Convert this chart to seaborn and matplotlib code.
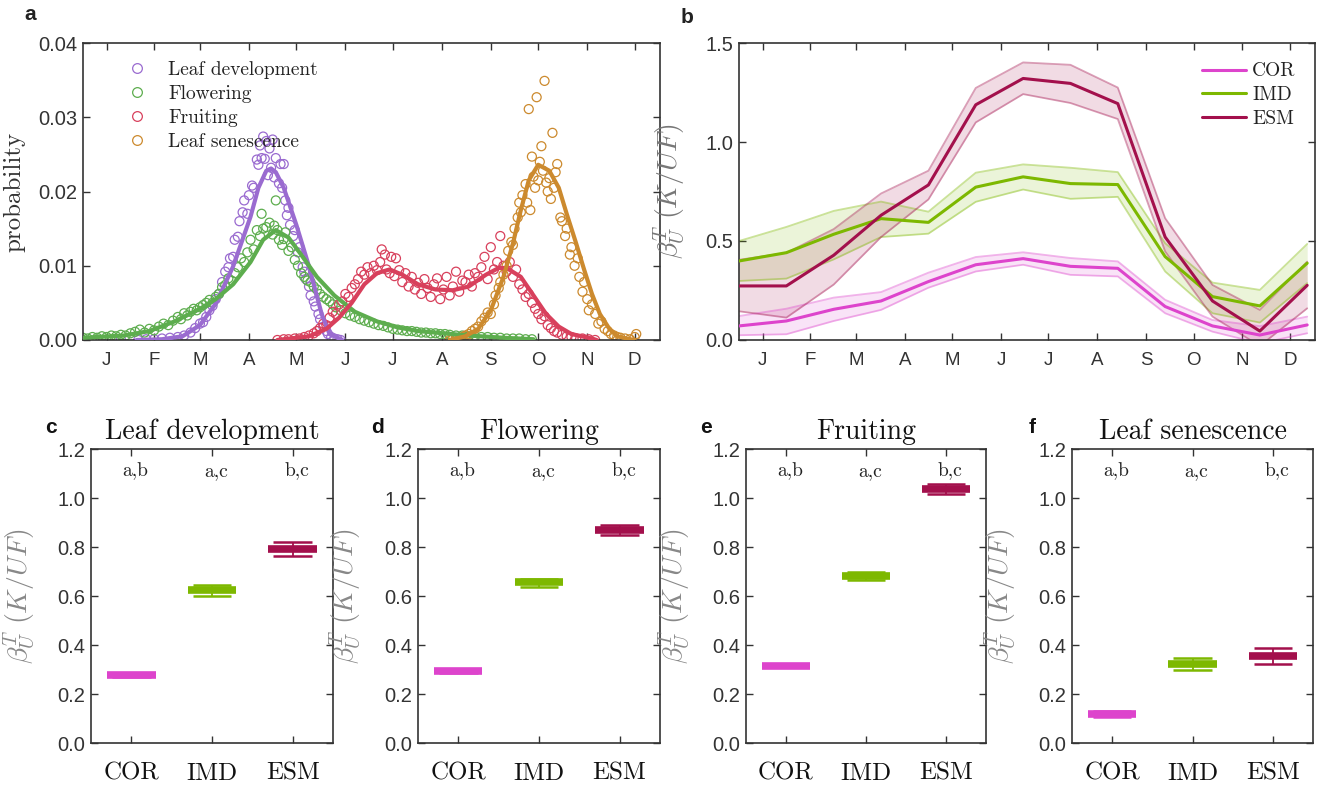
import numpy as np
import pandas as pd
import seaborn as sns
import matplotlib.pyplot as plt
import matplotlib.transforms as mtransforms
from matplotlib.lines import Line2D
from matplotlib.ticker import FormatStrFormatter

sns.set_theme(style="ticks")
plt.rcParams['font.family'] = ['Liberation Sans', 'DejaVu Sans']
plt.rcParams['mathtext.fontset'] = 'cm'
plt.rcParams['axes.edgecolor'] = '#333333'
plt.rcParams['xtick.color'] = '#333333'
plt.rcParams['ytick.color'] = '#333333'
plt.rcParams['text.color'] = '#222222'

SERIF = 'cmr10'

# ---- data: panel a (day of year, probability) ----
month_days = [15, 45, 74, 105, 135, 166, 196, 227, 258, 288, 319, 349]
month_labels = ['J', 'F', 'M', 'A', 'M', 'J', 'J', 'A', 'S', 'O', 'N', 'D']

stages = ['Leaf development', 'Flowering', 'Fruiting', 'Leaf senescence']
stage_colors = ['#9A6BD0', '#5DAD4E', '#D8405C', '#CC8A2E']

leaf_day = [24, 35, 40, 45, 50, 55, 60, 64, 68, 71, 74, 76, 78, 80, 82, 84, 86, 88, 90, 92,
            93, 95, 96, 98, 99, 101, 102, 104, 105, 107, 108, 110, 111, 112, 113, 114, 115,
            116, 117, 118, 119, 120, 121, 122, 124, 125, 126, 127, 128, 129, 130, 131, 133,
            134, 136, 137, 139, 140, 141, 143, 144, 146, 147, 149, 150, 152, 154, 155, 157,
            159, 161, 163]
leaf_prob = [0.0001, 0.0, 0.0001, 0.0001, 0.0002, 0.0003, 0.0004, 0.0006, 0.0010, 0.0016,
             0.0022, 0.0024, 0.0031, 0.0040, 0.0046, 0.0055, 0.0062, 0.0078, 0.0092, 0.0098,
             0.0110, 0.0112, 0.0135, 0.0139, 0.0160, 0.0172, 0.0188, 0.0170, 0.0195, 0.0208,
             0.0205, 0.0243, 0.0236, 0.0262, 0.0245, 0.0274, 0.0244, 0.0268, 0.0222, 0.0258,
             0.0232, 0.0270, 0.0219, 0.0245, 0.0211, 0.0237, 0.0205, 0.0237, 0.0188, 0.0168,
             0.0178, 0.0155, 0.0140, 0.0148, 0.0118, 0.0125, 0.0098, 0.0092, 0.0082, 0.0072,
             0.0060, 0.0052, 0.0045, 0.0035, 0.0028, 0.0018, 0.0012, 0.0008, 0.0004, 0.0002,
             0.0001, 0.0]
leaf_fit_day = [34, 50, 63, 74, 84, 95, 106, 111, 116, 119, 122, 127, 135, 143, 151, 156, 164]
leaf_fit_prob = [0.0, 0.0001, 0.0005, 0.0020, 0.0049, 0.0099, 0.0166, 0.0205, 0.0228, 0.0231,
                 0.0226, 0.0205, 0.0155, 0.0099, 0.0035, 0.0008, 0.0]

flow_day = [0, 3, 6, 9, 12, 15, 18, 21, 24, 27, 30, 33, 36, 39, 42, 45, 48, 51, 54, 57, 60, 62,
            64, 66, 68, 70, 72, 74, 76, 78, 80, 82, 84, 86, 88, 90, 92, 94, 96, 98, 100, 102,
            104, 106, 108, 110, 112, 113, 114, 116, 118, 120, 121, 122, 123, 124, 126, 127,
            128, 130, 132, 134, 136, 138, 140, 142, 144, 146, 148, 150, 152, 154, 156, 158,
            160, 163, 166, 169, 172, 175, 178, 181, 184, 187, 190, 193, 196, 199, 202, 205,
            208, 211, 214, 217, 220, 223, 226, 229, 232, 236, 240, 244, 248, 252, 256, 260,
            264, 268, 272, 276, 280, 284]
flow_prob = [0.0003, 0.0002, 0.0004, 0.0003, 0.0005, 0.0004, 0.0006, 0.0005, 0.0007, 0.0006,
             0.0009, 0.0011, 0.0014, 0.0010, 0.0015, 0.0013, 0.0018, 0.0022, 0.0020, 0.0026,
             0.0031, 0.0028, 0.0036, 0.0033, 0.0038, 0.0042, 0.0040, 0.0044, 0.0047, 0.0050,
             0.0054, 0.0050, 0.0058, 0.0062, 0.0071, 0.0074, 0.0083, 0.0080, 0.0090, 0.0098,
             0.0110, 0.0105, 0.0118, 0.0135, 0.0122, 0.0148, 0.0140, 0.0170, 0.0150, 0.0152,
             0.0158, 0.0142, 0.0154, 0.0188, 0.0148, 0.0135, 0.0128, 0.0136, 0.0145, 0.0120,
             0.0125, 0.0108, 0.0100, 0.0090, 0.0085, 0.0080, 0.0078, 0.0072, 0.0068, 0.0062,
             0.0058, 0.0055, 0.0052, 0.0048, 0.0044, 0.0040, 0.0036, 0.0033, 0.0031, 0.0028,
             0.0026, 0.0024, 0.0022, 0.0020, 0.0019, 0.0017, 0.0015, 0.0014, 0.0013, 0.0012,
             0.0012, 0.0011, 0.0010, 0.0010, 0.0009, 0.0009, 0.0008, 0.0008, 0.0007, 0.0006,
             0.0006, 0.0005, 0.0005, 0.0004, 0.0004, 0.0003, 0.0003, 0.0002, 0.0002, 0.0002,
             0.0001, 0.0001]
flow_fit_day = [0, 26, 42, 58, 74, 84, 95, 106, 114, 122, 130, 138, 148, 159, 172, 186, 199,
                212, 228, 244, 266, 285]
flow_fit_prob = [0.0003, 0.0006, 0.0012, 0.0025, 0.0042, 0.0055, 0.0075, 0.0105, 0.0135,
                 0.0148, 0.0138, 0.0115, 0.0085, 0.0060, 0.0038, 0.0025, 0.0017, 0.0012,
                 0.0009, 0.0006, 0.0003, 0.0001]

fruit_day = [123, 127, 130, 134, 137, 140, 143, 146, 148, 150, 152, 154, 156, 158, 160, 162,
             164, 166, 168, 170, 172, 174, 176, 178, 180, 182, 184, 186, 188, 189, 191, 192,
             194, 195, 197, 198, 200, 202, 204, 206, 208, 210, 212, 214, 216, 218, 220, 222,
             224, 226, 228, 230, 232, 234, 236, 238, 240, 242, 244, 246, 248, 250, 252, 254,
             256, 258, 260, 262, 264, 266, 268, 270, 272, 274, 276, 278, 280, 282, 284, 286,
             288, 290, 292, 294, 296, 298, 300, 303, 306, 309, 312, 316, 320, 324]
fruit_prob = [0.0000, 0.0001, 0.0001, 0.0002, 0.0002, 0.0004, 0.0006, 0.0009, 0.0012, 0.0016,
              0.0022, 0.0020, 0.0030, 0.0038, 0.0035, 0.0048, 0.0052, 0.0062, 0.0058, 0.0070,
              0.0075, 0.0082, 0.0092, 0.0088, 0.0098, 0.0090, 0.0100, 0.0094, 0.0105, 0.0122,
              0.0115, 0.0095, 0.0090, 0.0112, 0.0086, 0.0110, 0.0094, 0.0078, 0.0090, 0.0072,
              0.0085, 0.0068, 0.0077, 0.0062, 0.0082, 0.0070, 0.0058, 0.0075, 0.0083, 0.0055,
              0.0068, 0.0085, 0.0060, 0.0072, 0.0092, 0.0065, 0.0080, 0.0078, 0.0088, 0.0072,
              0.0090, 0.0085, 0.0098, 0.0112, 0.0082, 0.0125, 0.0095, 0.0105, 0.0140, 0.0100,
              0.0092, 0.0105, 0.0085, 0.0095, 0.0075, 0.0068, 0.0058, 0.0062, 0.0050, 0.0042,
              0.0035, 0.0028, 0.0032, 0.0020, 0.0016, 0.0012, 0.0010, 0.0007, 0.0005, 0.0004,
              0.0002, 0.0002, 0.0001, 0.0000]
fruit_fit_day = [123, 143, 154, 162, 170, 178, 186, 194, 202, 212, 223, 234, 244, 255, 263,
                 268, 277, 285, 293, 301, 309, 322, 325]
fruit_fit_prob = [0.0, 0.0005, 0.0015, 0.0030, 0.0050, 0.0075, 0.0090, 0.0095, 0.0088, 0.0075,
                  0.0068, 0.0067, 0.0072, 0.0088, 0.0097, 0.0097, 0.0085, 0.0060, 0.0035,
                  0.0018, 0.0008, 0.0002, 0.0]

sen_day = [232, 234, 236, 238, 240, 242, 244, 246, 248, 250, 252, 254, 256, 258, 260, 261, 263,
           264, 266, 268, 269, 271, 272, 273, 275, 276, 277, 278, 280, 281, 282, 283, 284, 285,
           286, 287, 288, 289, 290, 291, 292, 293, 294, 295, 296, 297, 298, 299, 300, 302, 303,
           305, 306, 308, 309, 311, 313, 314, 316, 317, 319, 320, 322, 324, 326, 328, 330, 332,
           334, 336, 338, 340, 343, 346, 349, 350]
sen_prob = [0.0000, 0.0001, 0.0002, 0.0002, 0.0004, 0.0006, 0.0008, 0.0012, 0.0015, 0.0018,
            0.0025, 0.0030, 0.0037, 0.0035, 0.0048, 0.0060, 0.0070, 0.0078, 0.0088, 0.0100,
            0.0120, 0.0132, 0.0128, 0.0150, 0.0165, 0.0185, 0.0172, 0.0195, 0.0210, 0.0185,
            0.0311, 0.0175, 0.0247, 0.0220, 0.0205, 0.0327, 0.0215, 0.0240, 0.0261, 0.0228,
            0.0349, 0.0212, 0.0200, 0.0218, 0.0190, 0.0279, 0.0205, 0.0226, 0.0237, 0.0165,
            0.0160, 0.0140, 0.0150, 0.0115, 0.0125, 0.0100, 0.0110, 0.0085, 0.0065, 0.0078,
            0.0055, 0.0040, 0.0048, 0.0035, 0.0022, 0.0025, 0.0015, 0.0012, 0.0008, 0.0006,
            0.0004, 0.0003, 0.0002, 0.0001, 0.0004, 0.0008]
sen_fit_day = [232, 242, 250, 258, 266, 272, 277, 282, 288, 295, 301, 306, 312, 317, 322, 327,
               333, 338, 346, 349]
sen_fit_prob = [0.0, 0.0005, 0.0015, 0.0040, 0.0085, 0.0130, 0.0175, 0.0215, 0.0236, 0.0228,
                0.0205, 0.0170, 0.0130, 0.0095, 0.0062, 0.0035, 0.0015, 0.0005, 0.0001, 0.0]

# ---- data: panel b (sensitivity every 30 days) ----
models = ['COR', 'IMD', 'ESM']
model_colors = ['#DD44CC', '#7DB800', '#A3104C']
b_day = [0, 30, 60, 90, 120, 150, 180, 210, 240, 270, 300, 330, 360]
cor_mean = [0.071, 0.096, 0.155, 0.197, 0.295, 0.380, 0.411, 0.372, 0.362, 0.169, 0.071, 0.025, 0.076]
cor_hi = [0.121, 0.158, 0.214, 0.242, 0.340, 0.419, 0.443, 0.414, 0.397, 0.203, 0.101, 0.070, 0.118]
cor_lo = [0.024, 0.029, 0.096, 0.152, 0.264, 0.346, 0.380, 0.329, 0.321, 0.135, 0.042, -0.017, 0.034]
imd_mean = [0.399, 0.441, 0.534, 0.613, 0.594, 0.772, 0.824, 0.790, 0.785, 0.421, 0.219, 0.172, 0.388]
imd_hi = [0.500, 0.571, 0.652, 0.699, 0.648, 0.845, 0.887, 0.870, 0.848, 0.489, 0.290, 0.253, 0.485]
imd_lo = [0.298, 0.310, 0.407, 0.520, 0.537, 0.698, 0.760, 0.713, 0.723, 0.346, 0.135, 0.088, 0.287]
esm_mean = [0.273, 0.273, 0.428, 0.630, 0.783, 1.188, 1.321, 1.296, 1.194, 0.520, 0.197, 0.045, 0.276]
esm_hi = [0.405, 0.440, 0.560, 0.740, 0.855, 1.273, 1.402, 1.390, 1.275, 0.615, 0.278, 0.152, 0.396]
esm_lo = [0.145, 0.113, 0.280, 0.520, 0.710, 1.099, 1.242, 1.197, 1.116, 0.447, 0.118, -0.030, 0.160]

# ---- data: panels c-f (mean, lower, upper per model) ----
phase_titles = ['Leaf development', 'Flowering', 'Fruiting', 'Leaf senescence']
phase_letters = ['c', 'd', 'e', 'f']
phase_mean = [[0.276, 0.624, 0.792], [0.293, 0.656, 0.869], [0.316, 0.680, 1.037], [0.118, 0.322, 0.355]]
phase_lo = [[0.268, 0.601, 0.765], [0.287, 0.637, 0.848], [0.310, 0.664, 1.018], [0.105, 0.299, 0.324]]
phase_hi = [[0.285, 0.646, 0.819], [0.299, 0.671, 0.888], [0.322, 0.697, 1.056], [0.129, 0.346, 0.386]]
sig_letters = ['a,b', 'a,c', 'b,c']

ylab = r'$\beta_U^T\ (K/UF)$'

fig = plt.figure(figsize=(13.4, 7.85), dpi=100)


def box_style(ax):
    for s in ax.spines.values():
        s.set_visible(True)
        s.set_linewidth(1.2)
        s.set_color('#333333')
    ax.tick_params(direction='in', top=True, right=True, length=5, width=1.0)


# ---- panel a ----
ax_a = fig.add_axes([0.0619, 0.5669, 0.4306, 0.3783])
series = [(leaf_day, leaf_prob, leaf_fit_day, leaf_fit_prob),
          (flow_day, flow_prob, flow_fit_day, flow_fit_prob),
          (fruit_day, fruit_prob, fruit_fit_day, fruit_fit_prob),
          (sen_day, sen_prob, sen_fit_day, sen_fit_prob)]
for (d, p, fd, fp), col in zip(series, stage_colors):
    sns.scatterplot(x=d, y=p, ax=ax_a, color=col, facecolor='none', edgecolor=col,
                    s=42, linewidth=0.9, zorder=2)
for (d, p, fd, fp), col in zip(series, stage_colors):
    sns.lineplot(x=fd, y=fp, ax=ax_a, color=col, lw=3, zorder=3)
ax_a.set_xlim(0, 365)
ax_a.set_ylim(0, 0.04)
ax_a.set_xticks(month_days)
ax_a.set_xticklabels(month_labels)
ax_a.set_yticks([0, 0.01, 0.02, 0.03, 0.04])
ax_a.yaxis.set_major_formatter(FormatStrFormatter('%.2f'))
box_style(ax_a)
ax_a.tick_params(axis='x', labelsize=13.5, pad=9)
ax_a.tick_params(axis='y', labelsize=14.5, pad=4)
ax_a.set_ylabel('probability', family=SERIF, fontsize=18, color='#333333')
ax_a.yaxis.set_label_coords(-0.1, 0.5)
handles = [Line2D([], [], marker='o', ls='none', mfc='none', mec=c, ms=7, mew=0.9)
           for c in stage_colors]
ax_a.legend(handles, stages, loc='upper left', frameon=False,
            prop={'family': SERIF, 'size': 14}, handletextpad=0.6,
            labelspacing=0.32, borderaxespad=0.5, bbox_to_anchor=(0.03, 1.0))

# ---- panel b ----
ax_b = fig.add_axes([0.5515, 0.5669, 0.4299, 0.3783])
b_means = [cor_mean, imd_mean, esm_mean]
b_his = [cor_hi, imd_hi, esm_hi]
b_los = [cor_lo, imd_lo, esm_lo]
for m, hi, lo, col in zip(b_means, b_his, b_los, model_colors):
    ax_b.fill_between(b_day, lo, hi, color=col, alpha=0.15, lw=0, zorder=1)
    ax_b.plot(b_day, hi, color=col, alpha=0.4, lw=1.3, zorder=2)
    ax_b.plot(b_day, lo, color=col, alpha=0.4, lw=1.3, zorder=2)
for m, col, name in zip(b_means, model_colors, models):
    sns.lineplot(x=b_day, y=m, ax=ax_b, color=col, lw=2.2, label=name, zorder=3)
ax_b.set_xlim(0, 365)
ax_b.set_ylim(0, 1.5)
ax_b.set_xticks(month_days)
ax_b.set_xticklabels(month_labels)
ax_b.set_yticks([0, 0.5, 1.0, 1.5])
ax_b.yaxis.set_major_formatter(FormatStrFormatter('%.1f'))
box_style(ax_b)
ax_b.tick_params(axis='x', labelsize=13.5, pad=9)
ax_b.tick_params(axis='y', labelsize=14.5, pad=4)
ax_b.set_ylabel(ylab, fontsize=20, color='#777777')
ax_b.yaxis.set_label_coords(-0.09, 0.5)
ax_b.legend(loc='upper right', frameon=False, prop={'family': SERIF, 'size': 14},
            handlelength=2.3, handletextpad=0.3, labelspacing=0.3,
            borderaxespad=0.6)

# ---- panels c-f ----
bottom_x = [0.0679, 0.3119, 0.5567, 0.8]
bottom_w = [0.1806, 0.1806, 0.1791, 0.1799]
xpos = [1, 2, 3]
shift = mtransforms.ScaledTranslation(0.20, 0, fig.dpi_scale_trans)
for i in range(4):
    ax = fig.add_axes([bottom_x[i], 0.0535, bottom_w[i], 0.3745])
    for x, m, lo, hi, col in zip(xpos, phase_mean[i], phase_lo[i], phase_hi[i], model_colors):
        ax.vlines(x, lo, hi, color=col, lw=1.3, zorder=2)
        ax.hlines([lo, hi], x - 0.24, x + 0.24, color=col, lw=1.8, zorder=2)
        ax.hlines(m, x - 0.3, x + 0.3, color=col, lw=5.5, zorder=3)
    for x, s in zip(xpos, sig_letters):
        ax.text(x + 0.05, 1.11, s, ha='center', va='center', family=SERIF,
                fontsize=14, color='#222222')
    ax.set_xlim(0.5, 3.5)
    ax.set_ylim(0, 1.2)
    ax.set_xticks(xpos)
    ax.set_xticklabels(models, family=SERIF, fontsize=18, color='#111111')
    for lab in ax.get_xticklabels():
        lab.set_transform(lab.get_transform() + shift)
    ax.set_yticks([0, 0.2, 0.4, 0.6, 0.8, 1.0, 1.2])
    ax.yaxis.set_major_formatter(FormatStrFormatter('%.1f'))
    box_style(ax)
    ax.tick_params(axis='x', pad=14)
    ax.tick_params(axis='y', labelsize=14.5, pad=4)
    ax.set_title(phase_titles[i], family=SERIF, fontsize=20, pad=7, color='#111111')
    ax.set_ylabel(ylab, fontsize=20, color='#888888')
    ax.yaxis.set_label_coords(-0.225, 0.5)
    fig.text(bottom_x[i] - 0.03, 0.455, phase_letters[i], fontsize=15, fontweight='bold',
             ha='center', va='center', color='#111111')

fig.text(0.0224, 0.981, 'a', fontsize=15, fontweight='bold', ha='center', va='center')
fig.text(0.5127, 0.978, 'b', fontsize=15, fontweight='bold', ha='center', va='center')

fig.savefig('out.png', dpi=100)
